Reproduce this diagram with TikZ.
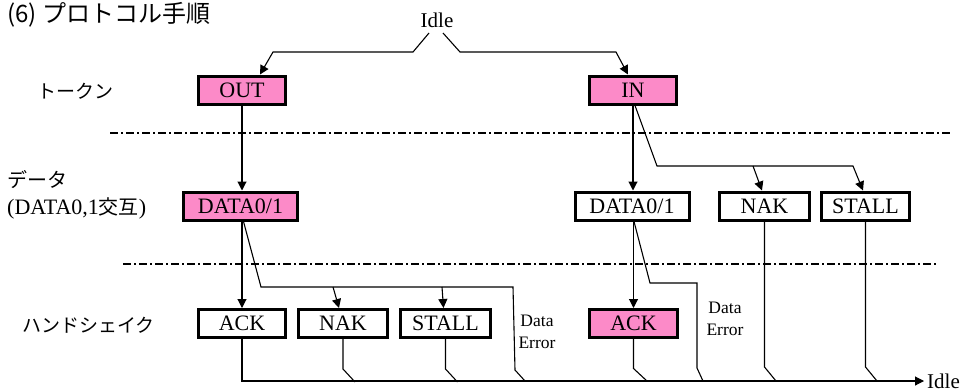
\documentclass[tikz,border=0pt]{standalone}
\usepackage{fontspec}
\setmainfont{Liberation Serif}
\newfontfamily\jp{Noto Sans CJK JP}
\usetikzlibrary{arrows.meta,calc}
\definecolor{pinkfill}{RGB}{252,138,200}
\tikzset{
 box/.style={draw=black, line width=3pt, fill=white, minimum height=28pt, minimum width=87pt, inner sep=0pt, text height=14.5pt, text depth=0pt, font=\fontsize{22}{22}\selectfont},
 widebox/.style={box, minimum width=114pt},
 hot/.style={fill=pinkfill},
 conn/.style={line width=1.1pt, line join=miter},
 arr/.style={conn, -{Triangle[width=9pt,length=9pt]}},
 sep/.style={line width=1.2pt, dash pattern=on 8pt off 3pt on 2pt off 3pt},
 lab/.style={font=\jp\fontsize{19}{19}\selectfont, inner sep=0pt, anchor=west},
 idlet/.style={font=\fontsize{21}{21}\selectfont, inner sep=0pt},
 errt/.style={font=\fontsize{17.5}{22}\selectfont, align=center, inner sep=0pt},
}
\begin{document}
\begin{tikzpicture}[x=1pt,y=-1pt]
\useasboundingbox[fill=white] (0,0) rectangle (967,391);
% title and labels
\node[anchor=base west, font=\jp\fontsize{24}{24}\selectfont, inner sep=0pt] (title) at (7,22) {(6) プロトコル手順};
\node[lab] (tok) at (37,91) {トークン};
\node[lab, align=left, font=\jp\fontsize{20}{27}\selectfont] (dat) at (7,195) {データ\\{\rmfamily\fontsize{22}{27}\selectfont (DATA0,1}交互{\rmfamily\fontsize{22}{27}\selectfont )}};
\node[lab] (hs) at (22,325) {ハンドシェイク};
% separators
\draw[sep] (110,133) -- (950,133);
\draw[sep] (123,264) -- (938,264);
% nodes
\node[idlet] (idle) at (437,20) {Idle};
\node[box,hot] (out) at (242,90) {OUT};
\node[box,hot] (in) at (633,90) {IN};
\node[widebox,hot] (dl) at (240.5,206) {DATA0/1};
\node[widebox] (dr) at (632,206) {DATA0/1};
\node[box,minimum width=90pt] (nakr) at (764.5,206) {NAK};
\node[box,minimum width=88pt] (stallr) at (865.5,206) {STALL};
\node[box] (ackl) at (242,323.5) {ACK};
\node[box,minimum width=89pt] (nakl) at (343,323.5) {NAK};
\node[box,minimum width=90pt] (stalll) at (445.5,323.5) {STALL};
\node[box,hot,minimum width=88pt] (ackr) at (633.5,323.5) {ACK};
\node[errt] (de1) at (537,332) {Data\\Error};
\node[errt] (de2) at (725,319) {Data\\Error};
\node[idlet, anchor=west] (idle2) at (927,381) {Idle};
% connectors from Idle
\draw[arr] ([shift={(-8,13)}]idle.center) -- (413,52) -- (273,52) -- ([xshift=18pt]out.north);
\draw[arr] ([shift={(6,13)}]idle.center) -- (460,52) -- (616,52) -- ([xshift=-5pt]in.north);
% token -> data
\draw[arr] (out.south) -- (out.south |- dl.north);
\draw[arr] (in.south) -- (in.south |- dr.north);
\draw[arr] ([xshift=2pt]in.south) -- (657,166) -- (853,166) -- ([xshift=-2.5pt]stallr.north);
\draw[arr] (753,166) -- ([xshift=-2.5pt]nakr.north);
% data -> handshake
\draw[arr] (ackl.north |- dl.south) -- (ackl.north);
\draw[conn] ([xshift=3pt]dl.south) -- (261,287) -- (513,287) -- (515,370) -- (525,381);
\draw[arr] (333,287) -- ([xshift=-4pt]nakl.north);
\draw[arr] (442,287) -- ([xshift=-2pt]stalll.north);
\draw[arr] (ackr.north |- dr.south) -- (ackr.north);
\draw[conn] ([xshift=2pt]dr.south) -- (650,283) -- (697,283) -- (697,368) -- (703,381);
% to Idle
\draw[arr] (ackl.south) -- (ackl.south |- idle2.west) -- ([xshift=-3pt]idle2.west);
\draw[conn] (nakl.south) -- ++(0,30) -- ++(12,13);
\draw[conn] (stalll.south) -- ++(0,30) -- ++(12,13);
\draw[conn] (ackr.south) -- ++(0,29.5) -- ++(14,13);
\draw[conn] (nakr.south) -- (764.5,367) -- (776,381);
\draw[conn] (stallr.south) -- (865.5,367) -- (877,381);
\end{tikzpicture}
\end{document}
